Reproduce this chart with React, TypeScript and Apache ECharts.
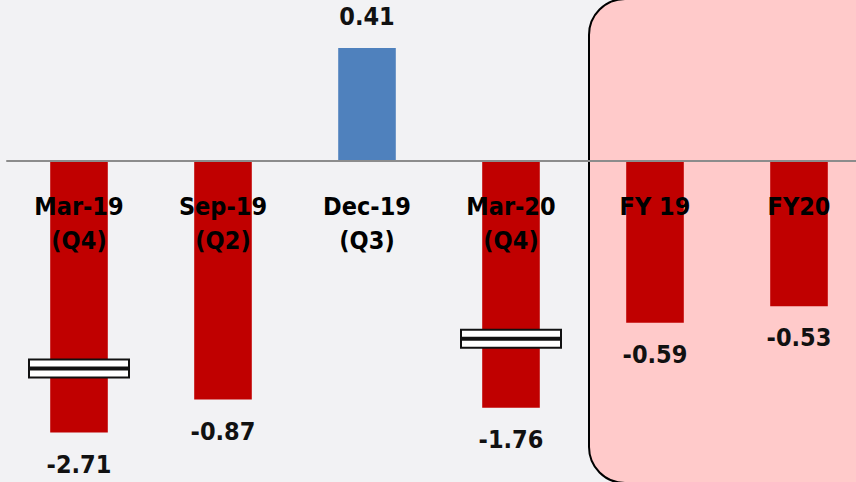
import React, { useEffect, useRef } from "react";
import * as echarts from "echarts";

const categories = ["Mar-19\n(Q4)", "Sep-19\n(Q2)", "Dec-19\n(Q3)", "Mar-20\n(Q4)", "FY 19", "FY20"];
const actualValues = [-2.71, -0.87, 0.41, -1.76, -0.59, -0.53];
// bars with a break are drawn shortened to this length
const displayValues = [-0.99, -0.87, 0.41, -0.9, -0.59, -0.53];
// [category index, value where the break marker sits]
const breaks = [
  [0, -0.757],
  [3, -0.648],
];

const FONT = '"DejaVu Sans Condensed", "DejaVu Sans", sans-serif';

export default function App() {
  const ref = useRef<HTMLDivElement>(null);
  useEffect(() => {
    const chart = echarts.init(ref.current!, null, { renderer: "svg" });
    chart.setOption({
      animation: false,
      backgroundColor: "#f2f2f4",
      grid: { left: 7, top: 0, width: 864, height: 482, outerBoundsMode: "none" },
      graphic: [
        {
          type: "rect",
          z: -10,
          shape: { x: 589, y: -1, width: 320, height: 484, r: 36 },
          style: { fill: "#ffcaca", stroke: "#000", lineWidth: 2 },
        },
      ],
      xAxis: {
        type: "category",
        data: categories,
        offset: -321,
        axisTick: { show: false },
        axisLine: { onZero: false, lineStyle: { color: "#8c8c8c", width: 2 } },
        axisLabel: {
          margin: 28,
          interval: 0,
          color: "#000",
          fontFamily: FONT,
          fontWeight: "bold",
          fontSize: 25,
          lineHeight: 34,
        },
        z: 3,
      },
      yAxis: {
        type: "value",
        min: -1.17,
        max: 0.585,
        show: false,
        splitLine: { show: false },
      },
      series: [
        {
          type: "bar",
          barWidth: "40%",
          z: 2,
          data: displayValues.map((v, i) => ({
            value: v,
            itemStyle: { color: v >= 0 ? "#4f81bd" : "#c00000" },
            label: { position: v >= 0 ? "top" : "bottom" },
          })),
          label: {
            show: true,
            distance: 19,
            color: "#111",
            fontFamily: FONT,
            fontWeight: "bold",
            fontSize: 25,
            formatter: (p: any) => actualValues[p.dataIndex].toFixed(2),
          },
        },
        {
          type: "custom",
          z: 5,
          data: breaks,
          renderItem: (params: any, api: any) => {
            const pt = api.coord([api.value(0), api.value(1)]);
            const w = 102;
            return {
              type: "group",
              children: [
                {
                  type: "rect",
                  shape: { x: pt[0] - w / 2, y: pt[1] - 10, width: w, height: 20 },
                  style: { fill: "#111" },
                },
                {
                  type: "rect",
                  shape: { x: pt[0] - w / 2 + 2, y: pt[1] - 8, width: w - 4, height: 6 },
                  style: { fill: "#fff" },
                },
                {
                  type: "rect",
                  shape: { x: pt[0] - w / 2 + 2, y: pt[1] + 2, width: w - 4, height: 6 },
                  style: { fill: "#fff" },
                },
              ],
            };
          },
        },
      ],
    });
    return () => chart.dispose();
  }, []);
  return (
    <div
      ref={ref}
      style={{ position: "fixed", left: 0, top: 0, width: 856, height: 482 }}
    />
  );
}
